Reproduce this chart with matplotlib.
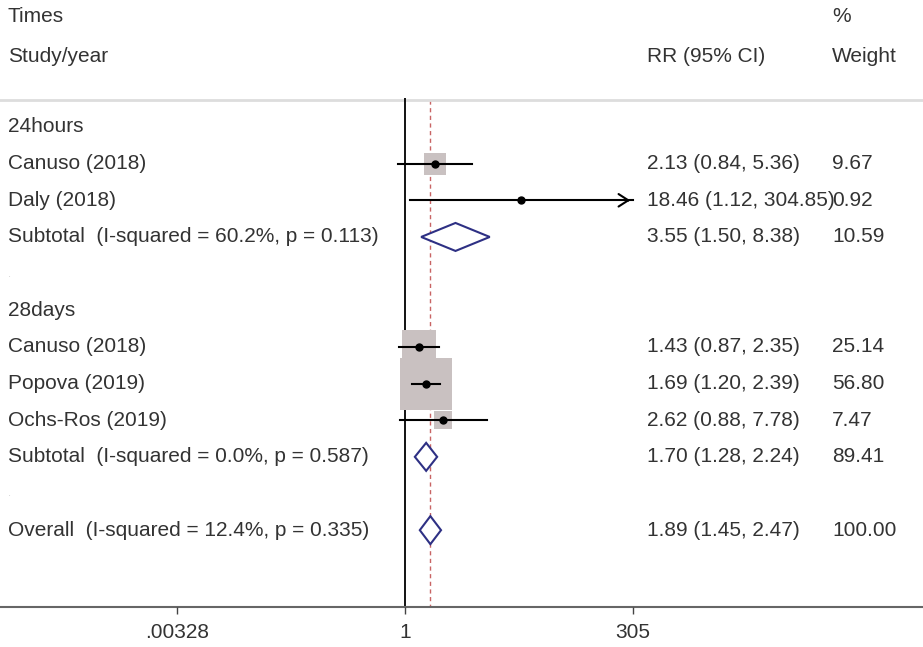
import numpy as np
import matplotlib.pyplot as plt

plt.rcParams["font.family"] = ["Liberation Sans", "DejaVu Sans"]

# ── data ─────────────────────────────────────────────────────────────────────
groups = ["24hours", "28days"]
study_labels = ["Canuso (2018)", "Daly (2018)", "Canuso (2018)", "Popova (2019)", "Ochs-Ros (2019)"]
study_group = [0, 0, 1, 1, 1]
rr = [2.13, 18.46, 1.43, 1.69, 2.62]
rr_lo = [0.84, 1.12, 0.87, 1.20, 0.88]
rr_hi = [5.36, 304.85, 2.35, 2.39, 7.78]
weights = [9.67, 0.92, 25.14, 56.80, 7.47]

subtotal_labels = ["Subtotal  (I-squared = 60.2%, p = 0.113)",
                   "Subtotal  (I-squared = 0.0%, p = 0.587)"]
sub_rr = [3.55, 1.70]
sub_lo = [1.50, 1.28]
sub_hi = [8.38, 2.24]
sub_w = [10.59, 89.41]

overall_label = "Overall  (I-squared = 12.4%, p = 0.335)"
overall_rr, overall_lo, overall_hi, overall_w = 1.89, 1.45, 2.47, 100.00

xticks = [0.00328, 1, 305]
xtick_labels = [".00328", "1", "305"]

# ── layout ───────────────────────────────────────────────────────────────────
W, H = 923, 647
ROW0, STEP = 127, 36.65
AXIS_Y = 607
TXT = "#333333"
FS = 15
BOX = "#C9C1C1"
DIAM = "#2E3084"

px = np.log10(xticks[-1]) / 228.0          # log10 units per pixel
x_min = 10 ** (-405 * px)
x_max = 10 ** ((W - 405) * px)

fig = plt.figure(figsize=(W / 100, H / 100), dpi=100)
ax = fig.add_axes([0, 0, 1, 1])
ax.set_xscale("log")
ax.set_xlim(x_min, x_max)
ax.set_ylim(H, 0)
ax.axis("off")

trans = ax.get_yaxis_transform()   # x in axes fraction, y in data
COL_L, COL_RR, COL_W = 8 / W, 647 / W, 832 / W


def row_y(i):
    return ROW0 + i * STEP


def put_text(x, y, s):
    ax.text(x, y, s, transform=trans, ha="left", va="center", fontsize=FS, color=TXT)


def diamond(y, est, lo, hi, h=14):
    ax.fill([lo, est, hi, est, lo], [y, y - h, y, y + h, y],
            facecolor="white", edgecolor=DIAM, linewidth=1.5, zorder=4)


# header
put_text(COL_L, 17, "Times")
put_text(COL_L, 57, "Study/year")
put_text(COL_W, 17, "%")
put_text(COL_RR, 57, "RR (95% CI)")
put_text(COL_W, 57, "Weight")
ax.axhline(100, color="#DDDDDD", linewidth=2)

# reference lines
ax.vlines(1, 98, AXIS_Y, color="black", linewidth=1.3, zorder=2)
ax.vlines(overall_rr, 100, AXIS_Y, color="#C86464", linewidth=1,
          linestyles=(0, (3, 2.5)), zorder=1)

row = 0
for g, gname in enumerate(groups):
    put_text(COL_L, row_y(row), gname)
    row += 1
    for k in [i for i, sg in enumerate(study_group) if sg == g]:
        y = row_y(row)
        side = 6.77 * np.sqrt(weights[k]) * 0.72
        ax.scatter([rr[k]], [y], s=side ** 2, marker="s", color=BOX, linewidths=0, zorder=2)
        ax.plot([rr_lo[k], rr_hi[k]], [y, y], color="black", linewidth=1.5, zorder=3)
        if rr_hi[k] > 0.9 * xticks[-1]:
            # CI runs off the axis: finish with an open arrow head
            ax.annotate("", xy=(rr_hi[k], y), xytext=(rr_hi[k] * 0.8, y),
                        arrowprops=dict(arrowstyle="->,head_length=0.7,head_width=0.45",
                                        color="black", linewidth=1.5), zorder=3)
        ax.plot(rr[k], y, "o", color="black", markersize=5, zorder=5)
        put_text(COL_L, y, study_labels[k])
        put_text(COL_RR, y, f"{rr[k]:.2f} ({rr_lo[k]:.2f}, {rr_hi[k]:.2f})")
        put_text(COL_W, y, f"{weights[k]:.2f}")
        row += 1
    y = row_y(row)
    diamond(y, sub_rr[g], sub_lo[g], sub_hi[g])
    put_text(COL_L, y, subtotal_labels[g])
    put_text(COL_RR, y, f"{sub_rr[g]:.2f} ({sub_lo[g]:.2f}, {sub_hi[g]:.2f})")
    put_text(COL_W, y, f"{sub_w[g]:.2f}")
    row += 1
    # blank spacer row (Stata leaves a faint dot here)
    ax.text(COL_L, row_y(row), ".", transform=trans, ha="left", va="center",
            fontsize=8, color="#D0D0D0")
    row += 1

y = row_y(row)
diamond(y, overall_rr, overall_lo, overall_hi)
put_text(COL_L, y, overall_label)
put_text(COL_RR, y, f"{overall_rr:.2f} ({overall_lo:.2f}, {overall_hi:.2f})")
put_text(COL_W, y, f"{overall_w:.2f}")

# bottom axis
ax.axhline(AXIS_Y, color="#666666", linewidth=1.5)
for t, lab in zip(xticks, xtick_labels):
    ax.vlines(t, AXIS_Y, AXIS_Y + 7, color="#444444", linewidth=1)
    ax.text(t, 633, lab, ha="center", va="center", fontsize=FS, color=TXT)

fig.savefig("out.png", dpi=100)
